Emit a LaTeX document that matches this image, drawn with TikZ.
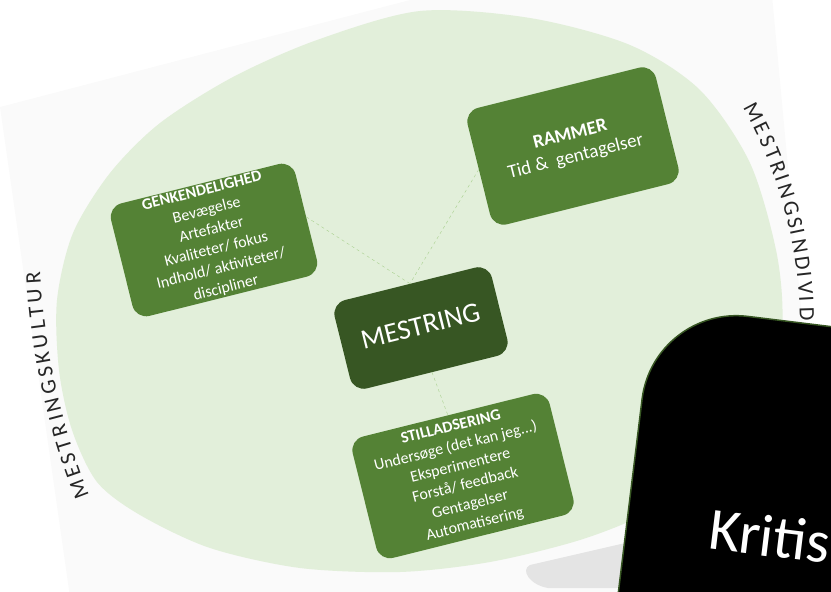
\documentclass[tikz,border=0pt]{standalone}
\usepackage{fontspec}
\usepackage{graphicx}
\setmainfont{Carlito}
\definecolor{boxgreen}{HTML}{548235}
\definecolor{darkgreen}{HTML}{375623}
\definecolor{palegreen}{HTML}{E2EFDA}
\definecolor{linkgreen}{HTML}{A9D08E}
\definecolor{pagegray}{HTML}{FAFAFA}
\definecolor{shadegray}{HTML}{E4E4E4}
\def\boxfont{\fontsize{16}{20}\selectfont}
\def\arcsize{22}
\def\kulturletters{M/.855,E/.488,S/.459,T/.487,R/.543,I/.252,N/.646,G/.631,S/.459,K/.520,U/.653,L/.420,T/.487,U/.653,R/.543}
\def\individletters{M/.855,E/.488,S/.459,T/.487,R/.543,I/.252,N/.646,G/.631,S/.459,I/.252,N/.646,D/.615,I/.252,V/.579,I/.252,D/.615}
\def\turned#1#2{\rotatebox[origin=c]{#1}{\begin{tabular}{@{}c@{}}#2\end{tabular}}}
\def\arcletters#1#2#3#4#5#6#7{%
  \xdef\arcpos{0}%
  \foreach \ch/\w [count=\i] in #7 {%
    \pgfmathsetmacro\arcmid{\arcpos+(\w*\arcsize+#6)/2}%
    \pgfmathsetmacro\arcang{#5+\arcmid/#4*180/pi}%
    \pgfmathsetmacro\arcrot{-\arcang-90}%
    \node[arc letter] (#1-\i) at ({#2+(#4+7)*cos(\arcang)}, {#3+(#4+7)*sin(\arcang)})
      {\rotatebox[origin=c]{\arcrot}{\ch}};
    \pgfmathsetmacro\arcnext{\arcpos+\w*\arcsize+#6}%
    \xdef\arcpos{\arcnext}%
  }%
}

\begin{document}
\begin{tikzpicture}[
  x=1pt, y=-1pt,
  box/.style={
    fill=boxgreen, rounded corners=14pt, rotate=14, inner sep=0pt
  },
  box text/.style={text=white, inner sep=0pt, font=\boxfont},
  link/.style={draw=linkgreen, dashed, thin},
  arc letter/.style={inner sep=0pt, text=black!85, font=\fontsize{\arcsize}{\arcsize}\selectfont}
]
\useasboundingbox (0,0) rectangle (831,592);
\clip (0,0) rectangle (831,592);
\fill[pagegray] (0,107) -- (410,0) -- (772,-5) -- (828,597) -- (70,597) -- cycle;
\fill[shadegray] (660,588) -- (548,588) .. controls (530,585) and (520,570) .. (530,565) -- (660,535) -- cycle;
\fill[palegreen] plot[smooth cycle] coordinates {
  (420,11) (530,18) (630,45) (700,90) (750,163) (777,255) (782,330)
  (765,410) (720,470) (650,512) (580,540) (490,562) (400,572)
  (300,568) (210,548) (140,515) (97,482) (72,430) (59,370)
  (57,300) (73,233) (110,173) (160,123) (233,77) (317,40)};

\arcletters{kultur}{749}{234}{710}{158.2}{3.7}{\kulturletters}
\arcletters{individ}{350}{327}{450}{-29.4}{3.1}{\individletters}

\node[box, minimum width=190, minimum height=116] (genk) at (214,240) {};
\node[box, minimum width=194, minimum height=120] (rammer) at (573,146) {};
\node[box, fill=darkgreen, minimum width=162, minimum height=91] (mestring) at (421,328) {};
\node[box, minimum width=203, minimum height=125] (still) at (463,476) {};

\node[box text] (genk-text) at (genk.center)
  {\turned{14}{\textbf{GENKENDELIGHED}\\Bevægelse\\Artefakter\\Kvaliteter/ fokus\\Indhold/ aktiviteter/\\discipliner}};
\node[box text, font=\fontsize{19}{23}\selectfont] (rammer-text) at (rammer.center)
  {\turned{14}{\textbf{RAMMER}\\Tid \&\ \ gentagelser}};
\node[box text, font=\fontsize{28}{34}\selectfont] (mestring-text) at (mestring.center)
  {\turned{14}{MESTRING}};
\node[box text] (still-text) at (still.center)
  {\turned{14}{\textbf{STILLADSERING}\\Undersøge (det kan jeg...)\\Eksperimentere\\Forstå/ feedback\\Gentagelser\\Automatisering}};

\draw[link] (genk.east) -- (mestring.north);
\draw[link] (rammer.west) -- (mestring.north);
\draw[link] (mestring.south) -- (still.north);

\node[draw=darkgreen, line width=1.5pt, fill=black, rounded corners=95pt,
  minimum width=420, minimum height=520, anchor=north west, rotate=-7] (screen) at (653,304) {};
\node[text=white, font=\fontsize{60}{60}\selectfont, inner sep=0pt] (kritis) at (770,536)
  {\rotatebox[origin=c]{-7}{Kritis}};
\end{tikzpicture}
\end{document}
